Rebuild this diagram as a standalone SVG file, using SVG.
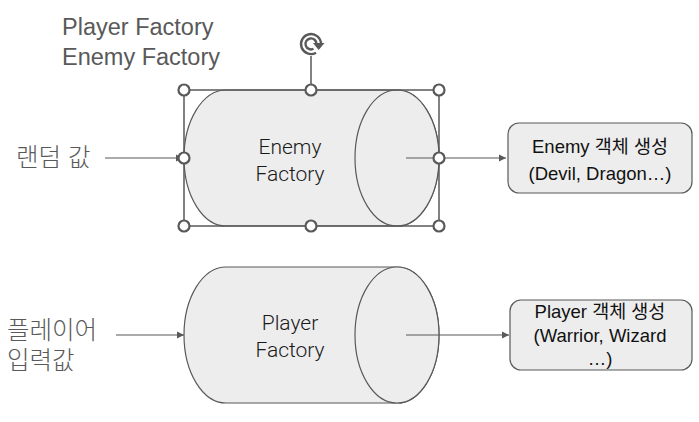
<svg xmlns="http://www.w3.org/2000/svg" width="699" height="422" viewBox="0 0 699 422">
<style>
.cyl{fill:#ededed;stroke:#595959;stroke-width:1.2}
.conn{stroke:#595959;stroke-width:1.2;fill:none}
.box{fill:#ededed;stroke:#595959;stroke-width:1.2}
.sel{fill:none;stroke:#595959;stroke-width:1.5}
.h{fill:#fff;stroke:#595959;stroke-width:2.2}
.lbl{font-family:"Liberation Sans","Noto Sans CJK KR",sans-serif;font-size:23.5px;fill:#595959}
.kr{font-family:"Liberation Sans","Noto Sans CJK KR",sans-serif;font-size:24.5px;fill:#595959;font-weight:300}
.ct{font-family:Roboto,"Noto Sans CJK KR",sans-serif;font-size:21px;fill:#1a1a1a;text-anchor:middle;font-weight:300}
.bt{font-family:"Liberation Sans","Noto Sans CJK KR",sans-serif;font-size:18.5px;fill:#111;text-anchor:middle}
</style>
<defs>
<marker id="ah" markerWidth="8" markerHeight="8" refX="7" refY="4" orient="auto" markerUnits="userSpaceOnUse">
<path d="M0,0.5 L7,4 L0,7.5 Z" fill="#595959"/>
</marker>
</defs>
<rect width="699" height="422" fill="#fff"/>
<g id="title">
<text class="lbl" x="62" y="35">Player Factory</text>
<text class="lbl" x="62" y="65">Enemy Factory</text>
</g>
<g id="input-random"><text class="kr" x="16" y="166">랜덤 값</text></g>
<g id="input-player"><text class="kr" x="7" y="339">플레이어</text><text class="kr" x="7" y="369">입력값</text></g>
<g id="connectors">
<line class="conn" x1="105" y1="158" x2="183" y2="158" marker-end="url(#ah)"/>
<line class="conn" x1="406" y1="158" x2="506" y2="158" marker-end="url(#ah)"/>
<line class="conn" x1="116" y1="335" x2="184" y2="335" marker-end="url(#ah)"/>
<line class="conn" x1="406" y1="335" x2="509" y2="335" marker-end="url(#ah)"/>
</g>
<g id="enemy-factory">
<path class="cyl" d="M226,90 L397,90 A42,68 0 0 1 397,226 L226,226 A42,68 0 0 1 226,90 Z"/>
<ellipse class="cyl" cx="397" cy="158" rx="42" ry="68"/>
<line class="conn" x1="406" y1="158" x2="439" y2="158"/>
<text class="ct" x="290" y="154">Enemy</text>
<text class="ct" x="290" y="181">Factory</text>
</g>
<g id="selection">
<rect class="sel" x="184" y="90" width="255" height="136"/>
<line class="sel" x1="311" y1="56" x2="311" y2="90"/>
<path d="M316,52.7 A10,10 0 1 1 321,44 M313.5,48.8 A5.5,5.5 0 1 1 316.5,44" fill="none" stroke="#595959" stroke-width="2.4"/>
<path d="M313,43 L324.5,43 L318.7,50 Z" fill="#595959"/>
<circle class="h" cx="184" cy="90" r="5.5"/>
<circle class="h" cx="311" cy="90" r="5.5"/>
<circle class="h" cx="439" cy="90" r="5.5"/>
<circle class="h" cx="184" cy="158" r="5.5"/>
<circle class="h" cx="439" cy="158" r="5.5"/>
<circle class="h" cx="184" cy="226" r="5.5"/>
<circle class="h" cx="311" cy="226" r="5.5"/>
<circle class="h" cx="439" cy="226" r="5.5"/>
</g>
<g id="enemy-result">
<rect class="box" x="508" y="123" width="184" height="70" rx="11"/>
<text class="bt" x="600" y="153">Enemy 객체 생성</text>
<text class="bt" x="600" y="180">(Devil, Dragon…)</text>
</g>
<g id="player-factory">
<path class="cyl" d="M226,267 L397,267 A42,68 0 0 1 397,403 L226,403 A42,68 0 0 1 226,267 Z"/>
<ellipse class="cyl" cx="397" cy="335" rx="42" ry="68"/>
<line class="conn" x1="406" y1="335" x2="439" y2="335"/>
<text class="ct" x="290" y="330">Player</text>
<text class="ct" x="290" y="357">Factory</text>
</g>
<g id="player-result">
<rect class="box" x="510" y="300" width="182" height="70" rx="11"/>
<text class="bt" x="600" y="318">Player 객체 생성</text>
<text class="bt" x="600" y="342">(Warrior, Wizard</text>
<text class="bt" x="600" y="365">…)</text>
</g>
</svg>
